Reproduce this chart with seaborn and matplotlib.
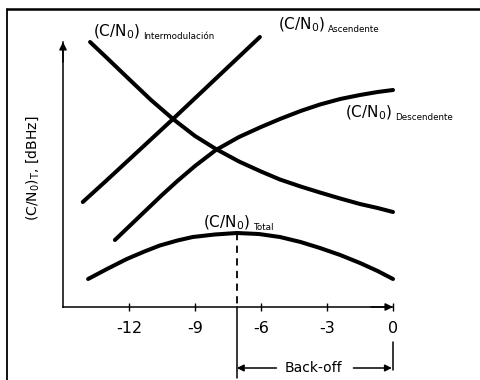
import numpy as np
import pandas as pd
import seaborn as sns
import matplotlib.pyplot as plt
from matplotlib.lines import Line2D

# ---- data ----
x_asc = [-14.1, -13.0, -10.0, -6.05]
y_asc = [10.5, 12.7, 18.8, 27.0]

x_im = [-13.77, -13.0, -12.1, -11.0, -10.0, -9.0, -8.05, -7.0, -6.0, -5.14,
        -4.2, -3.32, -2.4, -1.5, -0.7, 0.0]
y_im = [26.5, 24.9, 23.0, 20.7, 18.8, 17.1, 15.8, 14.55, 13.55, 12.75,
        12.05, 11.45, 10.85, 10.3, 9.9, 9.5]

x_desc = [-12.64, -11.5, -10.5, -9.8, -9.0, -8.05, -7.0, -6.0, -5.14, -4.2,
          -3.32, -2.4, -1.5, -0.7, 0.0]
y_desc = [6.7, 9.1, 11.2, 12.6, 14.1, 15.7, 17.0, 18.0, 18.8, 19.6,
          20.25, 20.8, 21.2, 21.5, 21.7]

x_tot = [-13.86, -13.0, -12.1, -11.3, -10.6, -9.8, -9.1, -8.1, -7.1, -6.1,
         -5.14, -4.2, -3.32, -2.4, -1.5, -0.7, 0.0]
y_tot = [2.8, 3.8, 4.8, 5.55, 6.15, 6.65, 7.0, 7.25, 7.4, 7.3,
         7.0, 6.5, 5.9, 5.2, 4.4, 3.6, 2.8]

xticks = [-12, -9, -6, -3, 0]
x_axis_start, x_axis_end = -15, 0
y_axis_top = 26.5
backoff_start, backoff_end = -7.1, 0.0
peak_total = 7.4

sns.set_theme(style="white")
plt.rcParams['font.family'] = ['DejaVu Sans']
plt.rcParams['axes.unicode_minus'] = False
plt.rcParams['mathtext.default'] = 'regular'

fig = plt.figure(figsize=(4.8, 3.8), dpi=100)
ax = fig.add_axes([0, 0, 1, 1])
ax.set_facecolor('white')

lw = 2.9
for xs, ys in [(x_asc, y_asc), (x_im, y_im), (x_desc, y_desc), (x_tot, y_tot)]:
    df = pd.DataFrame({'x': xs, 'y': ys})
    sns.lineplot(data=df, x='x', y='y', ax=ax, color='black', linewidth=lw,
                 sort=False, legend=False)
for ln in ax.lines:
    ln.set_solid_joinstyle('round')

ax.set_xlim(-17.864, 3.955)
ax.set_ylim(-7.3, 30.7)
ax.set_xlabel('')
ax.set_ylabel('')

# axes spines
for s in ['top', 'right']:
    ax.spines[s].set_visible(False)
ax.spines['bottom'].set_position(('data', 0))
ax.spines['bottom'].set_bounds(x_axis_start, x_axis_end)
ax.spines['left'].set_position(('data', x_axis_start))
ax.spines['left'].set_bounds(0, y_axis_top)
for s in ['bottom', 'left']:
    ax.spines[s].set_color('black')
    ax.spines[s].set_linewidth(1.1)
    ax.spines[s].set_visible(True)

ax.set_xticks(xticks)
ax.set_xticklabels([str(t) for t in xticks])
ax.set_yticks([])
ax.tick_params(axis='x', direction='inout', length=6, width=1.0, color='black',
               pad=7, labelsize=11.5, bottom=True, labelcolor='black')

# arrowheads
ax.annotate('', xy=(x_axis_end, 0), xytext=(x_axis_end - 1.0, 0),
            arrowprops=dict(arrowstyle='-|>', color='black', lw=1.1,
                            mutation_scale=11, shrinkA=0, shrinkB=0))
ax.annotate('', xy=(x_axis_start, y_axis_top), xytext=(x_axis_start, y_axis_top - 2),
            arrowprops=dict(arrowstyle='-|>', color='black', lw=1.1,
                            mutation_scale=11, shrinkA=0, shrinkB=0))

# curve labels
def label(x, y, main, sub, fs=11, sfs=6.3):
    t = ax.text(x, y, main, fontsize=fs, ha='left', va='center', color='black')
    ax.annotate(sub, xy=(1, 0), xycoords=t, xytext=(2, 0.5),
                textcoords='offset points', fontsize=sfs, ha='left', va='bottom',
                color='black')

label(-13.64, 27.5, '(C/N$_0$)', 'Intermodulación')
label(-5.23, 28.2, '(C/N$_0$)', 'Ascendente')
label(-2.18, 19.4, '(C/N$_0$)', 'Descendente')
label(-8.64, 8.4, '(C/N$_0$)', 'Total')

# y label
ax.text(-16.36, 13.9, '(C/N$_0$)$_T$, [dBHz]', rotation=90, fontsize=10,
        ha='center', va='center', color='black')

# back-off markings
ax.plot([backoff_start, backoff_start], [peak_total, 0], color='black', lw=1.3,
        ls=(0, (4, 3)))
ax.plot([backoff_start, backoff_start], [0, -7.1], color='black', lw=1.1)
ax.plot([backoff_end, backoff_end], [-3.5, -6.3], color='black', lw=1.1)
ax.annotate('', xy=(backoff_start, -6.1), xytext=(-5.3, -6.1),
            arrowprops=dict(arrowstyle='-|>', color='black', lw=1.1,
                            mutation_scale=10, shrinkA=0, shrinkB=0))
ax.annotate('', xy=(backoff_end - 0.05, -6.1), xytext=(-1.8, -6.1),
            arrowprops=dict(arrowstyle='-|>', color='black', lw=1.1,
                            mutation_scale=10, shrinkA=0, shrinkB=0))
ax.text(-3.6, -6.1, 'Back-off', fontsize=10, ha='center', va='center', color='black')

# scanned frame (left and top)
fig.add_artist(Line2D([7/480, 7/480], [0, 1 - 9/380], transform=fig.transFigure,
                      color='black', lw=1.3))
fig.add_artist(Line2D([7/480, 1], [1 - 9/380, 1 - 9/380], transform=fig.transFigure,
                      color='black', lw=1.8))

fig.savefig('out.png', dpi=100, facecolor='white')
